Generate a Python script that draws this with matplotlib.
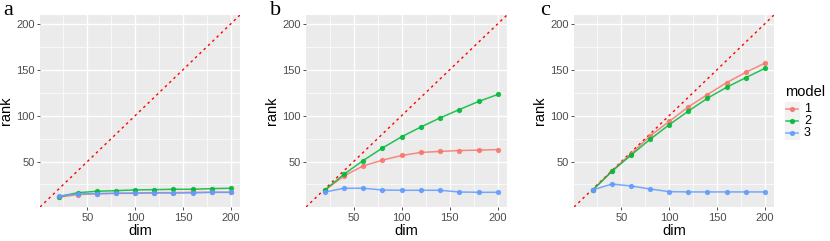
"""
Rank vs dim for three models, panels a-c, ggplot-like styling.
"""

import matplotlib
matplotlib.use('Agg')
import matplotlib.pyplot as plt
from matplotlib.lines import Line2D
from matplotlib.patches import Rectangle

dims = [20, 40, 60, 80, 100, 120, 140, 160, 180, 200]
models = ['1', '2', '3']
colors = ['#F8766D', '#00BA38', '#619CFF']

# panel a
a_m1 = [11.1, 14.0, 15.0, 15.4, 15.8, 16.1, 16.1, 16.5, 16.5, 16.5]
a_m2 = [11.7, 16.1, 17.6, 18.3, 19.1, 19.4, 19.8, 19.8, 20.5, 20.9]
a_m3 = [12.5, 14.7, 15.0, 15.4, 15.4, 15.8, 15.8, 15.8, 16.5, 16.5]
# panel b
b_m1 = [18.7, 34.3, 45.3, 51.5, 56.6, 59.9, 61.0, 62.0, 62.4, 63.0]
b_m2 = [18.7, 36.2, 51.1, 64.7, 77.0, 87.6, 97.5, 106.6, 115.4, 123.0]
b_m3 = [16.8, 20.9, 20.9, 19.0, 18.7, 18.7, 18.7, 16.8, 16.5, 16.5]
# panel c
c_m1 = [18.9, 39.5, 58.3, 77.8, 93.7, 109.5, 122.9, 135.9, 147.1, 157.1]
c_m2 = [18.9, 39.2, 56.9, 74.2, 90.0, 104.9, 118.9, 130.8, 141.3, 151.4]
c_m3 = [19.0, 25.5, 23.4, 20.1, 17.2, 16.9, 16.9, 16.9, 16.9, 16.9]

panels = {'a': [a_m1, a_m2, a_m3], 'b': [b_m1, b_m2, b_m3], 'c': [c_m1, c_m2, c_m3]}
lims = (0.5, 209.5)
ticks = [50, 100, 150, 200]
minor = [25, 75, 125, 175]

W, H = 830, 241
fig = plt.figure(figsize=(W / 100, H / 100), dpi=100)

# axes boxes in pixels: left, top, right, bottom
boxes = {'a': (40, 15, 240, 207), 'b': (306, 15, 507, 207), 'c': (574, 15, 774, 207)}
label_x = {'a': 3, 'b': 270, 'c': 540}

for name, series in panels.items():
    l, t, r, b = boxes[name]
    ax = fig.add_axes([l / W, (H - b) / H, (r - l) / W, (b - t) / H])
    ax.set_facecolor('#EBEBEB')
    for s in ax.spines.values():
        s.set_visible(False)
    ax.set_xlim(lims)
    ax.set_ylim(lims)
    ax.set_xticks(ticks)
    ax.set_yticks(ticks)
    ax.set_xticks(minor, minor=True)
    ax.set_yticks(minor, minor=True)
    ax.grid(which='major', color='white', lw=1.0)
    ax.grid(which='minor', color='white', lw=0.5)
    ax.set_axisbelow(True)
    ax.tick_params(which='major', length=2.5, width=0.6, color='#333333',
                   labelsize=8, labelcolor='#4D4D4D', pad=1.5)
    ax.tick_params(which='minor', length=0)
    for lab in ax.get_xticklabels() + ax.get_yticklabels():
        lab.set_family('Liberation Sans')

    ax.plot(lims, lims, color='red', lw=1.0, ls=(0, (1.8, 2.5)), zorder=2)
    for vals, col in zip(series, colors):
        ax.plot(dims, vals, color=col, lw=1.1, alpha=0.85, marker='o',
                ms=2.8, zorder=3)

    ax.set_xlabel('dim', fontsize=10.5, family='Liberation Sans', labelpad=1)
    ax.set_ylabel('rank', fontsize=10.5, family='Liberation Sans', labelpad=2)

    fig.text(label_x[name] / W, 1 - 1 / H, name, fontsize=16,
             family='Liberation Serif', va='top', ha='left')

# legend, drawn by hand to get the ggplot key boxes
fig.text(785 / W, 1 - 96 / H, 'model', fontsize=10.5,
         family='Liberation Sans', va='baseline')
key_y = [108.5, 120.5, 132.5]
for m, col, ky in zip(models, colors, key_y):
    fig.patches.append(Rectangle(((785) / W, 1 - (ky + 6) / H), 14 / W, 12 / H,
                                 transform=fig.transFigure, color='#F2F2F2',
                                 zorder=0))
    fig.lines.append(Line2D([786 / W, 798 / W], [1 - ky / H, 1 - ky / H],
                            transform=fig.transFigure, color=col, lw=1.1,
                            alpha=0.85))
    fig.lines.append(Line2D([792 / W], [1 - ky / H], transform=fig.transFigure,
                            color=col, marker='o', ms=2.8, alpha=0.85))
    fig.text(804 / W, 1 - ky / H, m, fontsize=9, family='Liberation Sans',
             va='center', ha='left')

fig.savefig('out.png', dpi=100)
